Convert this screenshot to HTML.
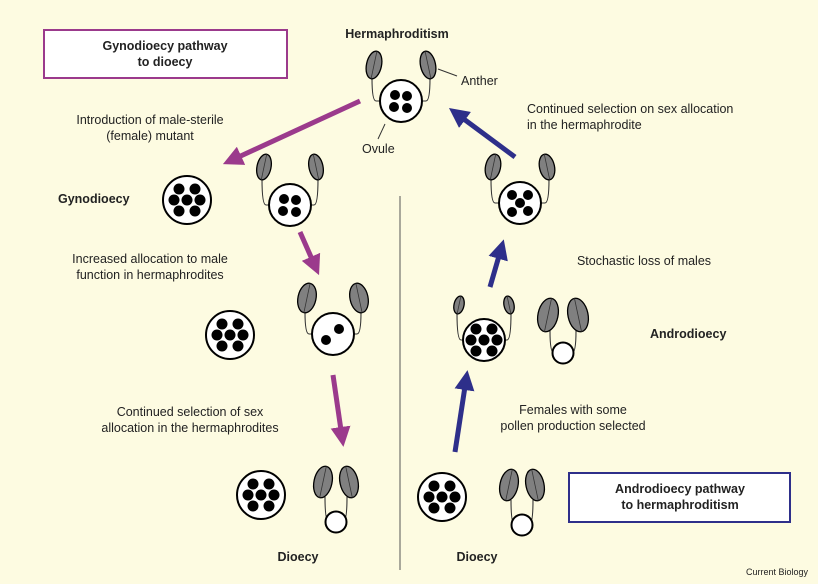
<!DOCTYPE html>
<html><head><meta charset="utf-8"><style>
html,body{margin:0;padding:0;background:#fdfbe1}
svg{display:block}
text{font-family:"Liberation Sans",sans-serif;fill:#222}
</style></head><body>
<svg id="s" width="818" height="584" viewBox="0 0 818 584" xmlns="http://www.w3.org/2000/svg">
<rect width="818" height="584" fill="#fdfbe1"/>
<defs>
<marker id="mg" markerWidth="4" markerHeight="4" refX="2" refY="2" orient="auto" markerUnits="strokeWidth"><path d="M0,0L4,2L0,4z" fill="#9b3a8c"/></marker>
<marker id="bl" markerWidth="4" markerHeight="4" refX="2" refY="2" orient="auto" markerUnits="strokeWidth"><path d="M0,0L4,2L0,4z" fill="#2e2f8a"/></marker>
</defs>
<rect x="44" y="30" width="243" height="48" fill="#fff" stroke="#9b3a8c" stroke-width="2"/>
<text x="165" y="50" font-size="12.5" font-weight="bold" text-anchor="middle">Gynodioecy pathway</text>
<text x="165" y="66" font-size="12.5" font-weight="bold" text-anchor="middle">to dioecy</text>
<rect x="569" y="473" width="221" height="49" fill="#fff" stroke="#2e2f8a" stroke-width="2"/>
<text x="680" y="493" font-size="12.5" font-weight="bold" text-anchor="middle">Androdioecy pathway</text>
<text x="680" y="509" font-size="12.5" font-weight="bold" text-anchor="middle">to hermaphroditism</text>
<line x1="400" y1="196" x2="400" y2="570" stroke="#555" stroke-width="1"/>
<text x="397" y="38" font-size="12.5" font-weight="bold" text-anchor="middle">Hermaphroditism</text>
<text x="461" y="85" font-size="12.5">Anther</text>
<text x="362" y="153" font-size="12.5">Ovule</text>
<line x1="438" y1="69" x2="457" y2="76" stroke="#333"/>
<line x1="385" y1="124" x2="378" y2="139" stroke="#333"/>
<text x="150" y="124" font-size="12.5" text-anchor="middle">Introduction of male-sterile</text>
<text x="150" y="140" font-size="12.5" text-anchor="middle">(female) mutant</text>
<text x="58" y="203" font-size="12.5" font-weight="bold">Gynodioecy</text>
<text x="150" y="263" font-size="12.5" text-anchor="middle">Increased allocation to male</text>
<text x="150" y="279" font-size="12.5" text-anchor="middle">function in hermaphrodites</text>
<text x="190" y="416" font-size="12.5" text-anchor="middle">Continued selection of sex</text>
<text x="190" y="432" font-size="12.5" text-anchor="middle">allocation in the hermaphrodites</text>
<text x="298" y="561" font-size="12.5" font-weight="bold" text-anchor="middle">Dioecy</text>
<text x="477" y="561" font-size="12.5" font-weight="bold" text-anchor="middle">Dioecy</text>
<text x="527" y="113" font-size="12.5">Continued selection on sex allocation</text>
<text x="527" y="129" font-size="12.5">in the hermaphrodite</text>
<text x="644" y="265" font-size="12.5" text-anchor="middle">Stochastic loss of males</text>
<text x="650" y="338" font-size="12.5" font-weight="bold">Androdioecy</text>
<text x="573" y="414" font-size="12.5" text-anchor="middle">Females with some</text>
<text x="573" y="430" font-size="12.5" text-anchor="middle">pollen production selected</text>
<text x="808" y="575" font-size="9" text-anchor="end">Current Biology</text>
<g stroke="#9b3a8c" stroke-width="5" fill="none">
<line x1="360" y1="101" x2="232" y2="160" marker-end="url(#mg)"/>
<line x1="300" y1="232" x2="315" y2="266" marker-end="url(#mg)"/>
<line x1="333" y1="375" x2="342" y2="437" marker-end="url(#mg)"/>
</g>
<g stroke="#2e2f8a" stroke-width="5" fill="none">
<line x1="515" y1="157" x2="457" y2="114" marker-end="url(#bl)"/>
<line x1="490" y1="287" x2="501" y2="249" marker-end="url(#bl)"/>
<line x1="455" y1="452" x2="466" y2="380" marker-end="url(#bl)"/>
</g>
<g id="fl"></g>
</svg>
<script>
var g=document.getElementById('fl'),h='';
function dots(cx,cy,n){var p={2:[[-7,6],[6,-5]],4:[[-6,-6],[6,-5],[-7,6],[6,7]],5:[[-8,-8],[8,-8],[0,0],[-8,9],[8,8]],7:[[-8,-11],[8,-11],[-13,0],[0,0],[13,0],[-8,11],[8,11]]}[n];
 p.forEach(function(d){h+='<circle cx="'+(cx+d[0])+'" cy="'+(cy+d[1])+'" r="'+(n==7?5.5:5)+'" fill="#000"/>';});}
function ov(cx,cy,r,n){h+='<circle cx="'+cx+'" cy="'+cy+'" r="'+r+'" fill="#fff" stroke="#000" stroke-width="2"/>';if(n)dots(cx,cy,n);}
function anther(x,y,rx,ry,rot){h+='<g transform="translate('+x+','+y+') rotate('+rot+')"><ellipse rx="'+rx+'" ry="'+ry+'" fill="#808080" stroke="#000" stroke-width="1.3"/><line x1="0" y1="'+(-ry)+'" x2="0" y2="'+ry+'" stroke="#333" stroke-width="0.8"/></g>';}
function fil(ax,ay,ex,ey){h+='<path d="M'+ax+','+ay+' Q'+ax+','+ey+' '+(ax+(ex>ax?4:-4))+','+ey+' L'+ex+','+ey+'" fill="none" stroke="#333" stroke-width="1.1"/>';}
function herm(cx,cy,r,n,dx,ady,rx,ry){var lx=cx-dx,rxp=cx+dx,ay=cy+ady;
 fil(lx-2,ay+ry-1,cx-r,cy);fil(rxp+2,ay+ry-1,cx+r,cy);
 anther(lx,ay,rx,ry,12);anther(rxp,ay,rx,ry,-12);ov(cx,cy,r,n);}
function male(cx,cy,dx,ady,rx,ry){var ay=cy+ady;
 fil(cx-dx+2,ay+ry-1,cx-10,cy);fil(cx+dx-2,ay+ry-1,cx+10,cy);
 anther(cx-dx,ay,rx,ry,12);anther(cx+dx,ay,rx,ry,-12);ov(cx,cy,10.5,0);}
herm(401,101,21,4,27,-36,7.5,14);
ov(187,200,24,7);
herm(290,205,21,4,26,-38,7,13);
ov(230,335,24,7);
herm(333,334,21,2,26,-36,9,15);
ov(261,495,24,7);
male(336,522,13,-40,9,16);
herm(520,203,21,5,27,-36,7.5,13);
herm(484,340,21,7,25,-35,5,9);
male(563,353,15,-38,10,17);
ov(442,497,24,7);
male(522,525,13,-40,9,16);
g.innerHTML=h;
</script>
</body></html>
